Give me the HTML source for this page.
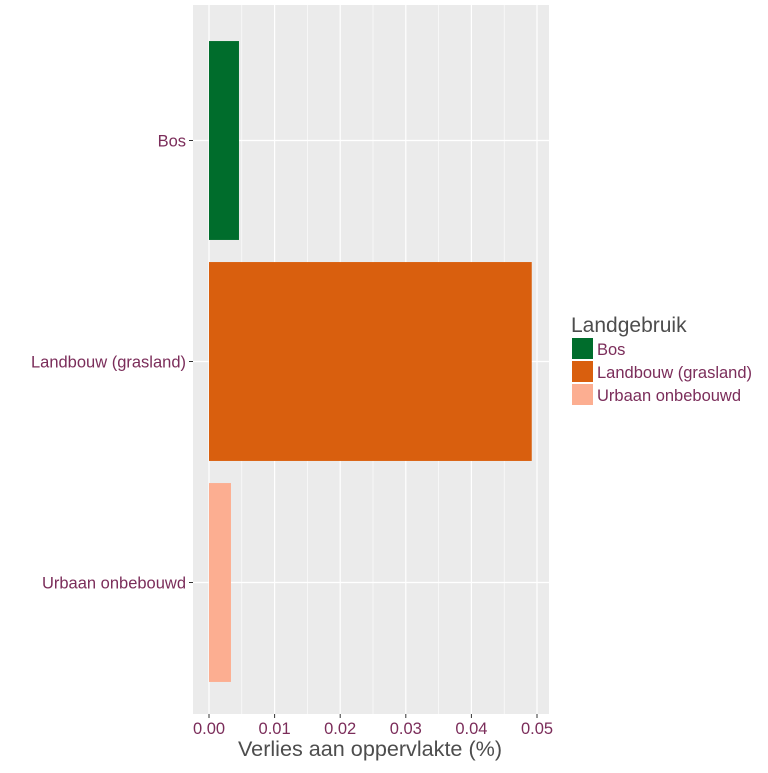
<!DOCTYPE html>
<html><head><style>
body{margin:0;background:#fff;font-family:"Liberation Sans",sans-serif;}
</style></head><body>
<svg width="768" height="768" id="c" xmlns="http://www.w3.org/2000/svg">
<rect x="193" y="5" width="356" height="709" fill="#ebebeb"/>
<g id="grid"></g><g id="bars"></g><g id="axes"></g>
<text x="370" y="756" text-anchor="middle" font-size="21.6" fill="#4d4d4d">Verlies aan oppervlakte (%)</text>
<g>
<text x="571" y="332" font-size="21" fill="#4d4d4d">Landgebruik</text>
<rect x="572" y="338" width="21" height="21" fill="#006d2c"/>
<text x="597" y="355" font-size="16.5" fill="#7b2d5a">Bos</text>
<rect x="572" y="361" width="21" height="21" fill="#d95f0e"/>
<text x="597" y="378" font-size="16.5" fill="#7b2d5a">Landbouw (grasland)</text>
<rect x="572" y="384" width="21" height="21" fill="#fcae91"/>
<text x="597" y="401" font-size="16.5" fill="#7b2d5a">Urbaan onbebouwd</text>
</g>
</svg>
<script>
const categories=["Bos","Landbouw (grasland)","Urbaan onbebouwd"];
const values=[0.00457,0.0492,0.00335];
const colors=["#006d2c","#d95f0e","#fcae91"];
const ticks=[0,0.01,0.02,0.03,0.04,0.05];
const tickLabels=["0.00","0.01","0.02","0.03","0.04","0.05"];
const NS="http://www.w3.org/2000/svg";
const x=v=>209+v*6560;
const band=221, top0=30;
const yc=i=>top0+band*i+band/2;
function mk(p,t,a){const e=document.createElementNS(NS,t);for(const k in a)e.setAttribute(k,a[k]);document.getElementById(p).appendChild(e);return e;}
for(let i=0;i<ticks.length-1;i++){
 const m=mk('grid','line',{x1:x((ticks[i]+ticks[i+1])/2),x2:x((ticks[i]+ticks[i+1])/2),y1:5,y2:714,stroke:'#fff','stroke-width':0.6});
 
 
}
ticks.forEach((t,i)=>{
 const g=mk('grid','line',{x1:x(t),x2:x(t),y1:5,y2:714,stroke:'#fff','stroke-width':1.2});
 
 
 const tk=mk('axes','line',{x1:x(t),x2:x(t),y1:714,y2:718,stroke:'#333','stroke-width':1});
 
 
 const l=mk('axes','text',{x:x(t),y:734,'text-anchor':'middle','font-size':16.5,fill:'#7b2d5a'});
 l.textContent=tickLabels[i];
 
 
});
categories.forEach((c,i)=>{
 const g=mk('grid','line',{x1:193,x2:549,y1:yc(i),y2:yc(i),stroke:'#fff','stroke-width':1.2});
 
 
 const h=band*0.9;
 const b=mk('bars','rect',{x:x(0),y:yc(i)-h/2,width:x(values[i])-x(0),height:h,fill:colors[i]});
 
 
 const tk=mk('axes','line',{x1:189,x2:193,y1:yc(i),y2:yc(i),stroke:'#333','stroke-width':1});
 
 
 const l=mk('axes','text',{x:186,y:yc(i)+6,'text-anchor':'end','font-size':16.5,fill:'#7b2d5a'});
 l.textContent=c;
 
 
});
</script>
</body></html>
